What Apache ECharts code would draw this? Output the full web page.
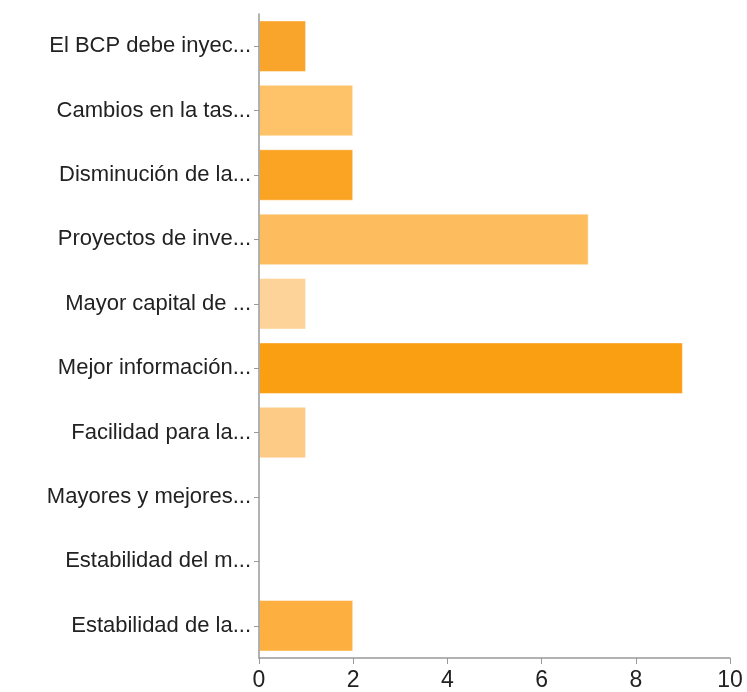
<!DOCTYPE html>
<html><head><meta charset="utf-8">
<script src="https://cdn.jsdelivr.net/npm/echarts@6/dist/echarts.min.js"></script>
<style>html,body{margin:0;padding:0;background:#fff}#c{width:747px;height:692px}</style>
</head><body><div id="c"></div>
<script>
var categories = ["El BCP debe inyec...","Cambios en la tas...","Disminución de la...","Proyectos de inve...","Mayor capital de ...","Mejor información...","Facilidad para la...","Mayores y mejores...","Estabilidad del m...","Estabilidad de la..."];
var values = [1,2,2,7,1,9,1,0,0,2];
var barColors = ["#F9A52B","#FEC368","#FBA424","#FDBD5E","#FED399","#FA9E12","#FECB86","#FDB446","#FDB446","#FDB040"];
var xTicks = [0,2,4,6,8,10];

var chart = echarts.init(document.getElementById('c'));
chart.setOption({
  animation:false,
  grid:{left:259,right:17,top:14,bottom:34,containLabel:false},
  xAxis:{type:'value',min:xTicks[0],max:xTicks[xTicks.length-1],interval:2,z:5,
    axisLine:{show:true,lineStyle:{color:'#999',width:1.5}},
    axisTick:{show:true,length:6,lineStyle:{color:'#999'}},
    splitLine:{show:false},
    axisLabel:{color:'#222',fontSize:23,fontFamily:'Liberation Sans',margin:11}},
  yAxis:{type:'category',data:categories,inverse:true,z:5,
    axisLine:{show:true,lineStyle:{color:'#999',width:1.5}},
    axisTick:{show:true,alignWithLabel:true,length:5,lineStyle:{color:'#999'}},
    axisLabel:{color:'#222',fontSize:22,fontFamily:'Liberation Sans',margin:8}},
  series:[{type:'bar',barCategoryGap:'20%',
    data:values.map(function(v,i){return {value:v,itemStyle:{color:barColors[i],borderColor:'rgba(255,255,255,0.45)',borderWidth:1}};})}]
});
</script></body></html>
